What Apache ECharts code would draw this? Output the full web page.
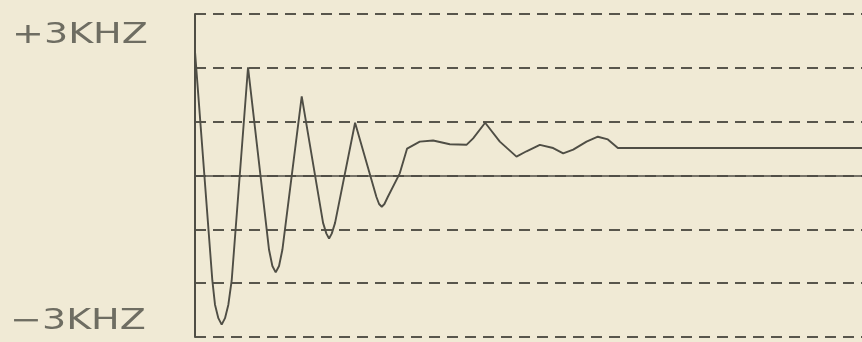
<!DOCTYPE html>
<html>
<head>
<meta charset="utf-8">
<script src="https://cdn.jsdelivr.net/npm/echarts@6/dist/echarts.min.js"></script>
<style>html,body{margin:0;padding:0;background:#f0ead5;}#c{width:862px;height:342px;}</style>
</head>
<body>
<div id="c"></div>
<script>
// time (arbitrary units across the trace) and frequency offset (kHz)
const times = [0, 2.6, 3.0, 3.5, 4.0, 4.5, 5.0, 5.5, 7.95, 11.1, 11.6, 12.1, 12.6, 13.1, 16.0, 19.2, 19.7, 20.1, 20.5, 21.0, 24.0, 27.2, 27.6, 28.0, 28.4, 28.9, 30.7, 31.8, 33.7, 35.7, 38.2, 40.7, 41.7, 43.5, 45.7, 48.2, 49.7, 51.7, 53.7, 55.2, 56.7, 58.7, 60.4, 61.9, 63.4, 100];
const freqKHz = [2.30, -1.95, -2.40, -2.65, -2.77, -2.65, -2.40, -1.95, 2.01, -1.38, -1.68, -1.80, -1.68, -1.38, 1.47, -0.88, -1.08, -1.17, -1.08, -0.88, 0.98, -0.40, -0.53, -0.58, -0.53, -0.40, 0.04, 0.50, 0.63, 0.65, 0.58, 0.57, 0.69, 0.98, 0.63, 0.35, 0.45, 0.57, 0.51, 0.41, 0.48, 0.63, 0.72, 0.67, 0.51, 0.51];
const topLabel = '+3KHZ';
const bottomLabel = '\u22123KHZ';

const chart = echarts.init(document.getElementById('c'));
const lineCol = '#4f4e45';
chart.setOption({
  backgroundColor: '#f0ead5',
  animation: false,
  grid: { left: 195, right: 0, top: 14, bottom: 5 },
  xAxis: {
    type: 'value', min: 0, max: 100,
    axisLine: { show: true, onZero: true, lineStyle: { color: lineCol, width: 1.6 } },
    axisTick: { show: false }, axisLabel: { show: false }, splitLine: { show: false }
  },
  yAxis: {
    type: 'value', min: -3, max: 3, interval: 1,
    axisLine: { show: true, lineStyle: { color: lineCol, width: 2 } },
    axisTick: { show: false }, axisLabel: { show: false },
    splitLine: { show: true, lineStyle: { color: '#58564c', width: 2.2, type: [11, 7] } }
  },
  series: [{
    type: 'line',
    data: times.map((t, i) => [t, freqKHz[i]]),
    showSymbol: false,
    lineStyle: { color: lineCol, width: 1.9 },
    clip: false
  }],
  graphic: [
    { type: 'text', left: 12, top: 22, scaleX: 1.36, style: { text: topLabel, font: '28px "DejaVu Sans"', fill: '#6e6d62' } },
    { type: 'text', left: 10, top: 308, scaleX: 1.36, style: { text: bottomLabel, font: '28px "DejaVu Sans"', fill: '#6e6d62' } }
  ]
});
</script>
</body>
</html>
